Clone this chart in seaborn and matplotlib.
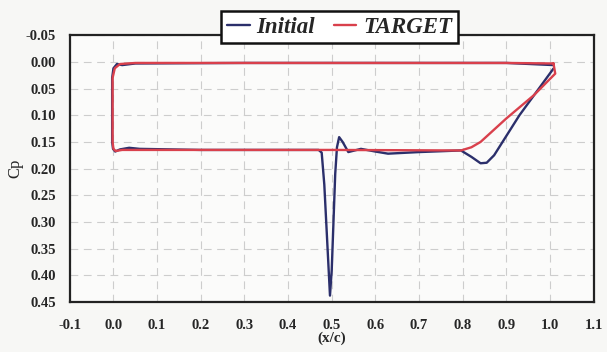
import numpy as np
import pandas as pd
import matplotlib
matplotlib.use("Agg")
import matplotlib.pyplot as plt
import seaborn as sns

# Cp distribution, traced round the section (upper surface, then lower)
initial_x = [1.008, 0.9, 0.6, 0.3, 0.05, 0.02, 0.008, 0.0, -0.003, -0.003, -0.001, 0.004,
             0.015, 0.036, 0.06, 0.2, 0.4, 0.47, 0.477, 0.483, 0.488, 0.493, 0.496, 0.5,
             0.504, 0.508, 0.512, 0.517, 0.525, 0.538, 0.567, 0.6, 0.629, 0.7, 0.796,
             0.82, 0.841, 0.855, 0.872, 0.93, 1.008]
initial_y = [0.006, 0.002, 0.002, 0.002, 0.003, 0.006, 0.004, 0.012, 0.03, 0.15, 0.163, 0.168,
             0.164, 0.161, 0.163, 0.165, 0.165, 0.165, 0.17, 0.23, 0.31, 0.39, 0.438, 0.39,
             0.3, 0.21, 0.16, 0.141, 0.15, 0.169, 0.163, 0.168, 0.172, 0.169, 0.166,
             0.178, 0.19, 0.189, 0.175, 0.1, 0.0125]

target_x = [1.008, 0.9, 0.6, 0.3, 0.05, 0.015, 0.003, -0.002, -0.002, 0.0, 0.005, 0.02,
            0.2, 0.5, 0.796, 0.82, 0.841, 0.9, 0.963, 1.012, 1.008]
target_y = [0.003, 0.002, 0.002, 0.002, 0.002, 0.004, 0.012, 0.03, 0.15, 0.163, 0.167, 0.165,
            0.165, 0.165, 0.166, 0.16, 0.15, 0.106, 0.0625, 0.022, 0.003]

x_ticks = [-0.1, 0.0, 0.1, 0.2, 0.3, 0.4, 0.5, 0.6, 0.7, 0.8, 0.9, 1.0, 1.1]
y_ticks = [-0.05, 0.00, 0.05, 0.10, 0.15, 0.20, 0.25, 0.30, 0.35, 0.40, 0.45]

df = pd.concat([
    pd.DataFrame({"x": initial_x, "cp": initial_y, "series": "Initial"}),
    pd.DataFrame({"x": target_x, "cp": target_y, "series": "TARGET"}),
], ignore_index=True)

sns.set_style("white")
plt.rcParams["font.family"] = ["Liberation Serif", "DejaVu Serif"]

fig = plt.figure(figsize=(6.07, 3.52), dpi=100)
fig.patch.set_facecolor("#f7f7f5")
ax = fig.add_axes([0.115, 0.142, 0.863, 0.758])
ax.set_facecolor("#fbfbfa")

sns.lineplot(data=df, x="x", y="cp", hue="series", sort=False, estimator=None,
             palette={"Initial": "#2b2f6b", "TARGET": "#d9404c"}, linewidth=1.7, ax=ax)

ax.set_xlim(-0.1, 1.1)
ax.set_ylim(0.45, -0.05)
ax.set_xticks(x_ticks)
ax.set_yticks(y_ticks)
ax.set_xticklabels([f"{v:.1f}" for v in x_ticks], fontweight="bold", fontsize=10.5)
ax.set_yticklabels([f"{v:.2f}" for v in y_ticks], fontweight="bold", fontsize=10.5)
ax.tick_params(axis="both", length=0, pad=12)
ax.tick_params(axis="y", pad=10)
ax.grid(True, linestyle=(0, (7, 5)), color="#cdcdcd", linewidth=0.8)
for s in ax.spines.values():
    s.set_linewidth(1.6)
    s.set_color("#222222")

ax.set_xlabel("(x/c)", fontweight="bold", fontsize=11, labelpad=0)
ax.set_ylabel("Cp", fontsize=12, labelpad=2)

leg = ax.legend(loc="center", bbox_to_anchor=(0.515, 1.03), ncol=2, frameon=True,
                fancybox=False, handlelength=1.0, handletextpad=0.3, columnspacing=0.8,
                borderpad=0.25, prop={"family": "Liberation Serif", "weight": "bold",
                                      "style": "italic", "size": 16.5})
leg.get_frame().set_edgecolor("#111111")
leg.get_frame().set_linewidth(1.8)
leg.get_frame().set_facecolor("white")
leg.get_frame().set_alpha(1)

fig.savefig("out.png", dpi=100, facecolor=fig.get_facecolor())
